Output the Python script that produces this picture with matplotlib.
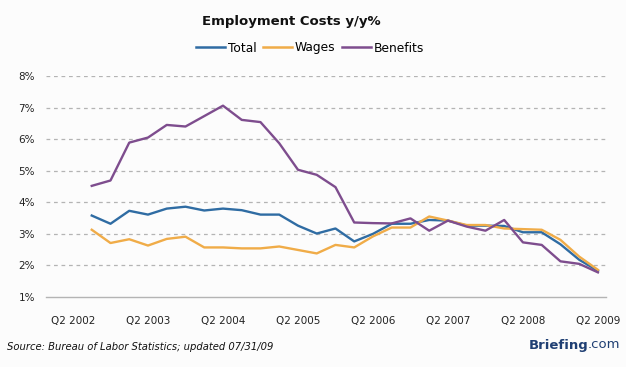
import matplotlib
matplotlib.use('Agg')
import matplotlib.pyplot as plt
from matplotlib.lines import Line2D

# quarterly y/y % changes, Q3 2002 .. Q2 2009
total = [3.58, 3.32, 3.73, 3.61, 3.80, 3.86, 3.74, 3.80, 3.75, 3.61,
         3.61, 3.26, 3.01, 3.17, 2.76, 3.00, 3.32, 3.32, 3.44, 3.42,
         3.26, 3.26, 3.25, 3.05, 3.05, 2.67, 2.18, 1.83]
wages = [3.13, 2.71, 2.83, 2.63, 2.84, 2.91, 2.57, 2.57, 2.54, 2.54,
         2.60, 2.49, 2.38, 2.65, 2.57, 2.92, 3.20, 3.20, 3.55, 3.42,
         3.28, 3.28, 3.17, 3.15, 3.13, 2.81, 2.28, 1.86]
benefits = [4.52, 4.69, 5.89, 6.05, 6.45, 6.40, 6.73, 7.06, 6.61, 6.54,
            5.87, 5.03, 4.87, 4.48, 3.36, 3.34, 3.33, 3.49, 3.10, 3.42,
            3.23, 3.10, 3.44, 2.73, 2.65, 2.13, 2.05, 1.78]
tick_labels = ['Q2 2002', 'Q2 2003', 'Q2 2004', 'Q2 2005',
               'Q2 2006', 'Q2 2007', 'Q2 2008', 'Q2 2009']
y_ticks = [1, 2, 3, 4, 5, 6, 7, 8]

c_total = '#2f6ca3'
c_wages = '#f0ac48'
c_benefits = '#7e4d8e'
bg = '#fcfcfc'

fig = plt.figure(figsize=(6.26, 3.67), dpi=100, facecolor=bg)
ax = fig.add_axes([46 / 626, 1 - 297 / 367, 560 / 626, 221 / 367])
ax.set_facecolor(bg)

x = list(range(1, len(total) + 1))
ax.plot(x, total, color=c_total, linewidth=1.7)
ax.plot(x, wages, color=c_wages, linewidth=1.7)
ax.plot(x, benefits, color=c_benefits, linewidth=1.7)

ax.set_xlim(-1.44, 28.43)
ax.set_ylim(1, 8)
ax.set_yticks(y_ticks)
ax.set_yticklabels([f'{v}%' for v in y_ticks])
ax.set_xticks(range(0, 29, 4))
ax.set_xticklabels(tick_labels)
ax.tick_params(length=0, labelsize=7.5, colors='#222222')
ax.tick_params(axis='x', pad=14)
ax.tick_params(axis='y', pad=8)

for v in y_ticks[1:]:
    ax.axhline(v, color='#b4b4b4', linestyle=(0, (3, 3)), linewidth=0.9, zorder=0)
for s in ['top', 'right', 'left']:
    ax.spines[s].set_visible(False)
ax.spines['bottom'].set_color('#b4b4b4')
ax.spines['bottom'].set_linewidth(1.0)

fig.text(291 / 626, 1 - 22 / 367, 'Employment Costs y/y%', ha='center', va='center',
         fontsize=9.5, fontweight='bold', color='#111111')

handles = [Line2D([0], [0], color=c, linewidth=1.8) for c in (c_total, c_wages, c_benefits)]
fig.legend(handles, ['Total', 'Wages', 'Benefits'], loc='center',
           bbox_to_anchor=(310 / 626, 1 - 48 / 367), ncol=3, frameon=False,
           fontsize=8.8, handlelength=2.4, handletextpad=0.2, columnspacing=0.55,
           borderpad=0, borderaxespad=0)

fig.text(7 / 626, 1 - 347 / 367, 'Source: Bureau of Labor Statistics; updated 07/31/09',
         ha='left', va='center', fontsize=7.2, style='italic', color='#111111')
fig.text(588 / 626, 1 - 345 / 367, 'Briefing', ha='right', va='center',
         fontsize=9.5, fontweight='bold', color='#1f3f73')
fig.text(588 / 626, 1 - 345 / 367, '.com', ha='left', va='center',
         fontsize=9.5, color='#1f3f73')

plt.savefig('out.png', dpi=100, facecolor=bg)
